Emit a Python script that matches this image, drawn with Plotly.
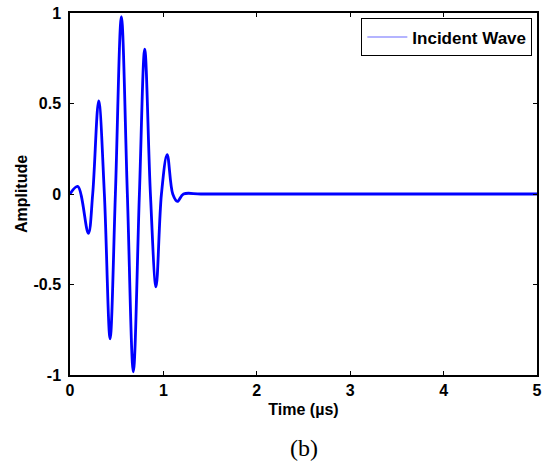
import plotly.graph_objects as go

# Incident wave samples: time in microseconds, amplitude
time_us = [0.0, 0.082, 0.196, 0.243, 0.307, 0.368, 0.429, 0.486, 0.55, 0.614,
           0.678, 0.743, 0.80, 0.861, 0.921, 0.979, 1.04, 1.10, 1.15, 1.215,
           1.4, 2.0, 3.0, 4.0, 5.0]
amplitude = [0.0, 0.042, -0.217, 0.0, 0.515, 0.0, -0.80, 0.0, 0.98, 0.0,
             -0.982, 0.0, 0.80, 0.0, -0.513, 0.0, 0.218, 0.0, -0.041, 0.0,
             0.0, 0.0, 0.0, 0.0, 0.0]

x_ticks = [0, 1, 2, 3, 4, 5]
x_tick_text = ["0", "1", "2", "3", "4", "5"]
y_ticks = [-1, -0.5, 0, 0.5, 1]
y_tick_text = ["-1", "-0.5", "0", "0.5", "1"]

FONT = "Arial, Liberation Sans, sans-serif"

fig = go.Figure()
fig.add_trace(go.Scatter(
    x=time_us, y=amplitude, mode="lines",
    line=dict(color="#0000ff", width=2.8, shape="spline", smoothing=1.0),
    showlegend=False, hoverinfo="skip"))
fig.add_trace(go.Scatter(
    x=[None], y=[None], mode="lines", name="<b>Incident Wave</b>",
    line=dict(color="#6b6bff", width=1.2), showlegend=True))

axis_common = dict(
    showline=True, linecolor="black", linewidth=1.5, mirror="ticks",
    ticks="inside", ticklen=4, tickwidth=1, tickcolor="black",
    showgrid=False, zeroline=False, automargin=False,
    tickfont=dict(family=FONT, size=16, color="black"),
)

fig.update_xaxes(range=[0, 5], tickvals=x_ticks,
                 ticktext=["<b>%s</b>" % t for t in x_tick_text],
                 title=dict(text="<b>Time (µs)</b>", standoff=6,
                            font=dict(family=FONT, size=16, color="black")),
                 **axis_common)
fig.update_yaxes(range=[-1, 1], tickvals=y_ticks,
                 ticktext=["<b>%s</b>" % t for t in y_tick_text],
                 ticklabelstandoff=4,
                 title=dict(text="<b>Amplitude</b>", standoff=2,
                            font=dict(family=FONT, size=16, color="black")),
                 **axis_common)

fig.update_layout(
    width=550, height=473,
    margin=dict(l=70, r=13, t=13, b=98),
    paper_bgcolor="white", plot_bgcolor="white",
    legend=dict(x=0.99, y=0.985, xanchor="right", yanchor="top",
                bordercolor="black", borderwidth=1, bgcolor="white",
                font=dict(family=FONT, size=17, color="black"),
                itemwidth=40),
    annotations=[dict(text="(b)", x=0.5, y=-0.16, xref="paper", yref="paper",
                      xanchor="center", yanchor="top", showarrow=False,
                      font=dict(family="Liberation Serif, Times New Roman, serif", size=24, color="black"))],
)

fig.write_html("out.html")
